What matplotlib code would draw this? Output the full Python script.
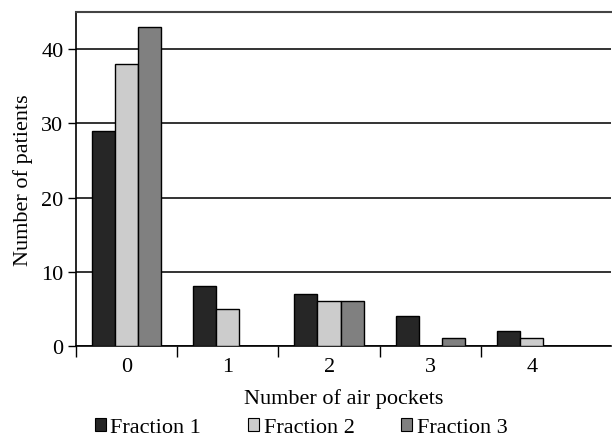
import numpy as np
import matplotlib
matplotlib.use("Agg")
import matplotlib.pyplot as plt
from matplotlib.patches import Patch

plt.rcParams["font.family"] = ["Liberation Serif", "DejaVu Serif"]

categories = ["0", "1", "2", "3", "4"]
fraction1 = [29, 8, 7, 4, 2]
fraction2 = [38, 5, 6, 0, 1]
fraction3 = [43, 0, 6, 1, 0]
series_names = ["Fraction 1", "Fraction 2", "Fraction 3"]
colors = ["#262626", "#cccccc", "#808080"]

fig = plt.figure(figsize=(6.12, 4.39), dpi=100)
ax = fig.add_axes([0.124, 0.21, 0.874, 0.76])

x = np.arange(len(categories))
w = 0.23
for i, (vals, c) in enumerate(zip([fraction1, fraction2, fraction3], colors)):
    ax.bar(x + (i - 1) * w, vals, w, color=c, edgecolor="black", linewidth=1, zorder=3)

ax.set_xlim(-0.5, 4.78)
ax.set_ylim(0, 45)
ax.set_yticks([0, 10, 20, 30, 40])
ax.yaxis.grid(True, color="#111111", linewidth=1.2, zorder=0)
ax.set_axisbelow(True)

ax.set_xticks(x)
ax.set_xticklabels(categories)
ax.set_xticks(np.arange(-0.5, 3.6, 1), minor=True)
ax.tick_params(axis="x", which="major", length=0, labelsize=16, pad=8)
ax.tick_params(axis="x", which="minor", length=8, width=1, direction="out")
ax.tick_params(axis="y", length=6, width=1, labelsize=16, pad=3)

ax.spines["right"].set_visible(False)
ax.spines["top"].set_color("#444444")
ax.spines["top"].set_linewidth(1.5)
for s in ["left", "bottom"]:
    ax.spines[s].set_linewidth(1.2)

ax.set_xlabel("Number of air pockets", fontsize=16, labelpad=9)
ax.set_ylabel("Number of patients", fontsize=16, labelpad=6)

handles = [Patch(facecolor=c, edgecolor="black", linewidth=0.8) for c in colors]
fig.legend(handles, series_names, loc="center", bbox_to_anchor=(0.492, 0.024), ncol=3,
           frameon=False, fontsize=16, handlelength=0.5, handleheight=0.5,
           handletextpad=0.2, columnspacing=2.1)

fig.savefig("out.png", dpi=100)
